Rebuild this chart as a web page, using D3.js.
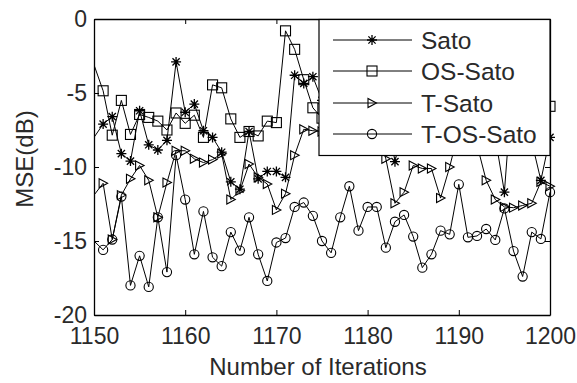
<!DOCTYPE html>
<html>
<head>
<meta charset="utf-8">
<script src="https://cdn.jsdelivr.net/npm/d3@7"></script>
<style>
  html, body { margin: 0; padding: 0; background: #fff; }
  svg { display: block; }
  text { font-family: Arial, "Liberation Sans", sans-serif; fill: #2a2a2a; }
</style>
</head>
<body>
<svg id="chart" width="577" height="383"></svg>
<script>
// ---- data ----
const iterations = d3.range(1150, 1201);
const seriesNames = ["Sato", "OS-Sato", "T-Sato", "T-OS-Sato"];
const sato = [-8.0, -7.1, -6.6, -9.1, -9.6, -6.2, -8.5, -8.85, -8.2, -2.9,
  -6.3, -5.75, -7.55, -8.0, -9.0, -11.0, -11.5, -7.6, -10.8, -10.3,
  -10.3, -10.7, -3.8, -4.35, -3.9, -5.5, -6.8, -4.5, -7.2, -5.0,
  -6.5, -3.8, -6.0, -9.64, -7.0, -5.2, -6.9, -4.1, -6.3, -7.8,
  -5.5, -6.6, -4.8, -7.4, -8.0, -11.7, -3.5, -5.9, -8.3, -10.9, -8.0];
const osSato = [-3.1, -4.85, -7.85, -5.5, -7.8, -6.45, -6.65, -6.9, -7.5, -6.35,
  -7.05, -6.5, -8.0, -4.45, -4.65, -6.75, -8.0, -7.6, -7.9, -6.9,
  -7.0, -0.8, -2.05, -4.1, -6.0, -6.7, -5.2, -3.6, -6.1, -4.4,
  -2.6, -5.0, -3.9, -6.4, -4.8, -2.9, -4.5, -5.6, -3.3, -6.2,
  -4.4, -3.0, -5.3, -4.0, -6.1, -3.5, -5.0, -2.7, -4.6, -6.5, -5.9];
const tSato = [-11.9, -11.1, -14.9, -11.9, -10.8, -9.9, -10.9, -13.4, -11.05, -8.9,
  -8.9, -9.45, -9.7, -9.5, -9.1, -12.2, -11.6, -9.8, -10.7, -11.15,
  -12.9, -11.8, -9.2, -7.45, -7.55, -7.6, -6.9, -8.2, -6.4, -7.9,
  -6.1, -7.3, -9.45, -12.45, -11.7, -9.9, -10.1, -10.1, -12.1, -10.0,
  -7.5, -6.0, -8.5, -10.9, -12.2, -12.7, -12.75, -12.6, -12.45, -11.0, -11.3];
const tOsSato = [-15.0, -15.6, -14.9, -12.0, -18.0, -16.0, -18.1, -13.4, -17.1, -9.2,
  -12.2, -15.9, -13.0, -16.1, -16.7, -14.4, -15.65, -13.4, -15.9, -17.7,
  -15.1, -14.8, -12.7, -12.4, -13.3, -15.0, -15.8, -13.4, -11.3, -14.3,
  -12.7, -12.7, -15.45, -13.7, -13.24, -14.7, -16.8, -15.9, -14.3, -14.55,
  -11.17, -14.75, -14.66, -14.19, -14.93, -12.8, -15.68, -17.4, -14.4, -14.86, -11.7];
const xTicks = [1150, 1160, 1170, 1180, 1190, 1200];
const yTicks = [0, -5, -10, -15, -20];
const xLabel = "Number of Iterations";
const yLabel = "MSE(dB)";
const markers = ["asterisk", "square", "triangle", "circle"];

const allSeries = [sato, osSato, tSato, tOsSato];

// ---- layout ----
const L = 94, R = 550, T = 19, B = 315;
const svg = d3.select("#chart");
const x = d3.scaleLinear().domain([1150, 1200]).range([L, R]);
const y = d3.scaleLinear().domain([-20, 0]).range([B, T]);

svg.append("defs").append("clipPath").attr("id", "plotclip")
  .append("rect").attr("x", L).attr("y", T).attr("width", R - L).attr("height", B - T);

// axes
const fs = 23;
const gx = svg.append("g").attr("transform", `translate(0,${B})`)
  .call(d3.axisBottom(x).tickValues(xTicks).tickFormat(d3.format("d")).tickSize(-5).tickSizeOuter(0).tickPadding(13));
const gxTop = svg.append("g").attr("transform", `translate(0,${T})`)
  .call(d3.axisTop(x).tickValues(xTicks).tickFormat("").tickSize(-5).tickSizeOuter(0));
const gy = svg.append("g").attr("transform", `translate(${L},0)`)
  .call(d3.axisLeft(y).tickValues(yTicks).tickFormat(d => d3.format("d")(d).replace("−", "-")).tickSize(-5).tickSizeOuter(0).tickPadding(7));
const gyR = svg.append("g").attr("transform", `translate(${R},0)`)
  .call(d3.axisRight(y).tickValues(yTicks).tickFormat("").tickSize(-5).tickSizeOuter(0));
[gx, gxTop, gy, gyR].forEach(g => {
  g.selectAll("path.domain").attr("stroke", "#000").attr("stroke-width", 1.3);
  g.selectAll(".tick line").attr("stroke", "#000").attr("stroke-width", 1);
  g.selectAll("text").attr("font-size", fs).attr("font-family", "Arial, 'Liberation Sans', sans-serif").attr("fill", "#2a2a2a");
});

// axis titles
svg.append("text").attr("x", (L + R) / 2 - 4).attr("y", 375).attr("text-anchor", "middle")
  .attr("font-size", 24).text(xLabel);
svg.append("text").attr("transform", `translate(33,${(T + B) / 2 - 8}) rotate(-90)`)
  .attr("text-anchor", "middle").attr("font-size", 24).text(yLabel);

// marker drawing
function drawMarker(g, type) {
  if (type === "asterisk") {
    const s = 5, d = 3.6;
    g.append("path").attr("d", `M${-s},0L${s},0M0,${-s}L0,${s}M${-d},${-d}L${d},${d}M${-d},${d}L${d},${-d}`)
      .attr("stroke", "#000").attr("stroke-width", 1.3).attr("fill", "none");
  } else if (type === "square") {
    g.append("rect").attr("x", -5).attr("y", -5).attr("width", 10).attr("height", 10)
      .attr("stroke", "#000").attr("stroke-width", 1.1).attr("fill", "none");
  } else if (type === "triangle") {
    g.append("path").attr("d", "M-4,-4.5L4.5,0L-4,4.5Z")
      .attr("stroke", "#000").attr("stroke-width", 1.1).attr("fill", "none");
  } else {
    g.append("circle").attr("r", 4.6)
      .attr("stroke", "#000").attr("stroke-width", 1.1).attr("fill", "none");
  }
}

const plot = svg.append("g").attr("clip-path", "url(#plotclip)");
const marks = svg.append("g");
const line = d3.line().x((d, i) => x(iterations[i])).y(d => y(d));
allSeries.forEach((vals, si) => {
  plot.append("path").datum(vals).attr("d", line)
    .attr("fill", "none").attr("stroke", "#000").attr("stroke-width", 1);
  vals.forEach((v, i) => {
    if (i === 0) return; // reference shows no markers on the left edge
    const g = marks.append("g").attr("transform", `translate(${x(iterations[i])},${y(v)})`);
    drawMarker(g, markers[si]);
  });
});

// legend
const lg = svg.append("g");
lg.append("rect").attr("x", 319).attr("y", T + 0.5).attr("width", R - 319).attr("height", 155 - T)
  .attr("fill", "#fff").attr("stroke", "#000").attr("stroke-width", 1.2);
const rowY = [40, 71, 103, 134];
seriesNames.forEach((name, i) => {
  lg.append("line").attr("x1", 333).attr("x2", 412).attr("y1", rowY[i]).attr("y2", rowY[i])
    .attr("stroke", "#000").attr("stroke-width", 1);
  drawMarker(lg.append("g").attr("transform", `translate(372,${rowY[i]})`), markers[i]);
  lg.append("text").attr("x", 421).attr("y", rowY[i]).attr("dy", "0.36em")
    .attr("font-size", 24.5).text(name);
});
</script>
</body>
</html>
